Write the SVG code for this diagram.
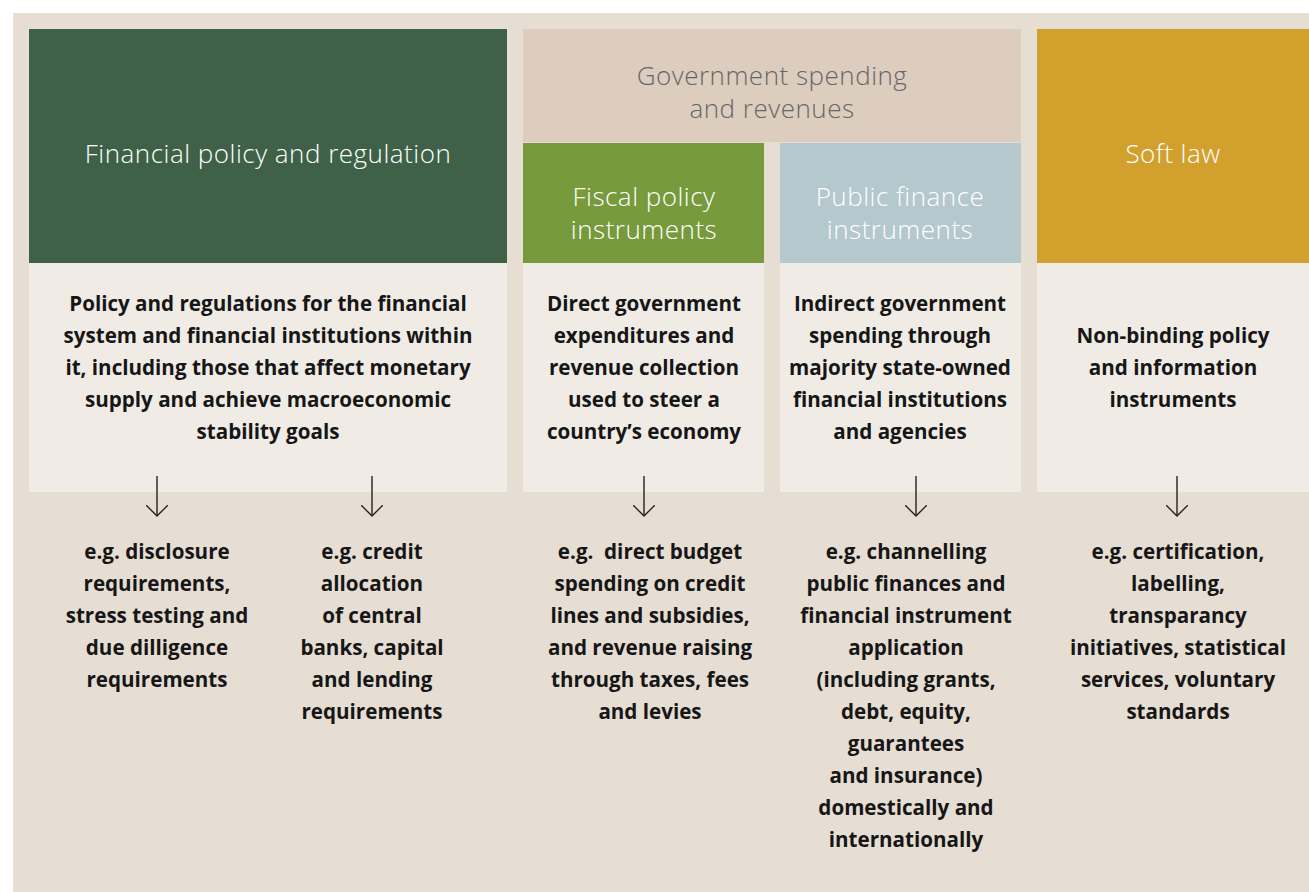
<svg xmlns="http://www.w3.org/2000/svg" width="1309" height="892" viewBox="0 0 1309 892">
  <style>
    .head { font-family: "Open Sans", "Noto Sans", sans-serif; font-size: 26px; font-weight: 300; letter-spacing: 0.5px; fill: #ffffff; text-anchor: middle; }
    .head-grey { fill: #676767; }
    .body { font-family: "Open Sans", "Noto Sans", sans-serif; font-size: 20.6px; font-weight: 700; fill: #161616; text-anchor: middle; }
    .panel { fill: #f0ebe5; }
    .arrow { stroke: #222222; stroke-width: 1.4; fill: none; }
  </style>
  <defs>
    <!-- open V arrowhead, drawn pointing along +x so orient="auto" follows the line -->
    <marker id="head" viewBox="0 0 12 22" refX="11" refY="11" markerWidth="12" markerHeight="22" markerUnits="userSpaceOnUse" orient="auto">
      <path d="M0,0 L11,11 L0,22" fill="none" stroke="#222222" stroke-width="1.4"/>
    </marker>
  </defs>

  <!-- page background -->
  <rect x="0" y="0" width="1309" height="892" fill="#ffffff"/>
  <rect x="13" y="13" width="1296" height="879" fill="#e6ddd3"/>

  <!-- column 1: financial policy -->
  <g id="financial-policy">
    <rect x="29" y="29" width="478" height="234" fill="#3e6148"/>
    <text class="head" x="268" y="163">Financial policy and regulation</text>
  </g>
  <g id="financial-policy-desc">
    <rect class="panel" x="29" y="263" width="478" height="229"/>
    <text class="body" x="268" y="311">Policy and regulations for the financial</text>
    <text class="body" x="268" y="343">system and financial institutions within</text>
    <text class="body" x="268" y="375">it, including those that affect monetary</text>
    <text class="body" x="268" y="407">supply and achieve macroeconomic</text>
    <text class="body" x="268" y="439">stability goals</text>
  </g>

  <!-- column 2/3 header -->
  <g id="government-spending">
    <rect x="523" y="29" width="498" height="113" fill="#dccdbf"/>
    <text class="head head-grey" x="772" y="85">Government spending</text>
    <text class="head head-grey" x="772" y="118">and revenues</text>
  </g>

  <g id="fiscal-policy">
    <rect x="523" y="143" width="241" height="120" fill="#769a3c"/>
    <text class="head" x="644" y="206">Fiscal policy</text>
    <text class="head" x="644" y="239">instruments</text>
  </g>
  <g id="fiscal-policy-desc">
    <rect class="panel" x="523" y="263" width="241" height="229"/>
    <text class="body" x="644" y="311">Direct government</text>
    <text class="body" x="644" y="343">expenditures and</text>
    <text class="body" x="644" y="375">revenue collection</text>
    <text class="body" x="644" y="407">used to steer a</text>
    <text class="body" x="644" y="439">country’s economy</text>
  </g>

  <g id="public-finance">
    <rect x="780" y="143" width="241" height="120" fill="#b4c8ce"/>
    <text class="head" x="900" y="206">Public finance</text>
    <text class="head" x="900" y="239">instruments</text>
  </g>
  <g id="public-finance-desc">
    <rect class="panel" x="780" y="263" width="241" height="229"/>
    <text class="body" x="900" y="311">Indirect government</text>
    <text class="body" x="900" y="343">spending through</text>
    <text class="body" x="900" y="375">majority state-owned</text>
    <text class="body" x="900" y="407">financial institutions</text>
    <text class="body" x="900" y="439">and agencies</text>
  </g>

  <!-- column 4: soft law -->
  <g id="soft-law">
    <rect x="1037" y="29" width="272" height="234" fill="#d2a12d"/>
    <text class="head" x="1173" y="163">Soft law</text>
  </g>
  <g id="soft-law-desc">
    <rect class="panel" x="1037" y="263" width="272" height="229"/>
    <text class="body" x="1173" y="343">Non-binding policy</text>
    <text class="body" x="1173" y="375">and information</text>
    <text class="body" x="1173" y="407">instruments</text>
  </g>

  <!-- connectors -->
  <g id="connectors">
    <line class="arrow" x1="157" y1="476" x2="157" y2="516" marker-end="url(#head)"/>
    <line class="arrow" x1="372" y1="476" x2="372" y2="516" marker-end="url(#head)"/>
    <line class="arrow" x1="644" y1="476" x2="644" y2="516" marker-end="url(#head)"/>
    <line class="arrow" x1="916" y1="476" x2="916" y2="516" marker-end="url(#head)"/>
    <line class="arrow" x1="1177" y1="476" x2="1177" y2="516" marker-end="url(#head)"/>
  </g>

  <!-- examples -->
  <g id="example-disclosure">
    <text class="body" x="157" y="559">e.g. disclosure</text>
    <text class="body" x="157" y="591">requirements,</text>
    <text class="body" x="157" y="623">stress testing and</text>
    <text class="body" x="157" y="655">due dilligence</text>
    <text class="body" x="157" y="687">requirements</text>
  </g>
  <g id="example-credit">
    <text class="body" x="372" y="559">e.g. credit</text>
    <text class="body" x="372" y="591">allocation</text>
    <text class="body" x="372" y="623">of central</text>
    <text class="body" x="372" y="655">banks, capital</text>
    <text class="body" x="372" y="687">and lending</text>
    <text class="body" x="372" y="719">requirements</text>
  </g>
  <g id="example-budget">
    <text class="body" x="650" y="559" xml:space="preserve">e.g.  direct budget</text>
    <text class="body" x="650" y="591">spending on credit</text>
    <text class="body" x="650" y="623">lines and subsidies,</text>
    <text class="body" x="650" y="655">and revenue raising</text>
    <text class="body" x="650" y="687">through taxes, fees</text>
    <text class="body" x="650" y="719">and levies</text>
  </g>
  <g id="example-channelling">
    <text class="body" x="906" y="559">e.g. channelling</text>
    <text class="body" x="906" y="591">public finances and</text>
    <text class="body" x="906" y="623">financial instrument</text>
    <text class="body" x="906" y="655">application</text>
    <text class="body" x="906" y="687">(including grants,</text>
    <text class="body" x="906" y="719">debt, equity,</text>
    <text class="body" x="906" y="751">guarantees</text>
    <text class="body" x="906" y="783">and insurance)</text>
    <text class="body" x="906" y="815">domestically and</text>
    <text class="body" x="906" y="847">internationally</text>
  </g>
  <g id="example-certification">
    <text class="body" x="1178" y="559">e.g. certification,</text>
    <text class="body" x="1178" y="591">labelling,</text>
    <text class="body" x="1178" y="623">transparancy</text>
    <text class="body" x="1178" y="655">initiatives, statistical</text>
    <text class="body" x="1178" y="687">services, voluntary</text>
    <text class="body" x="1178" y="719">standards</text>
  </g>
</svg>
